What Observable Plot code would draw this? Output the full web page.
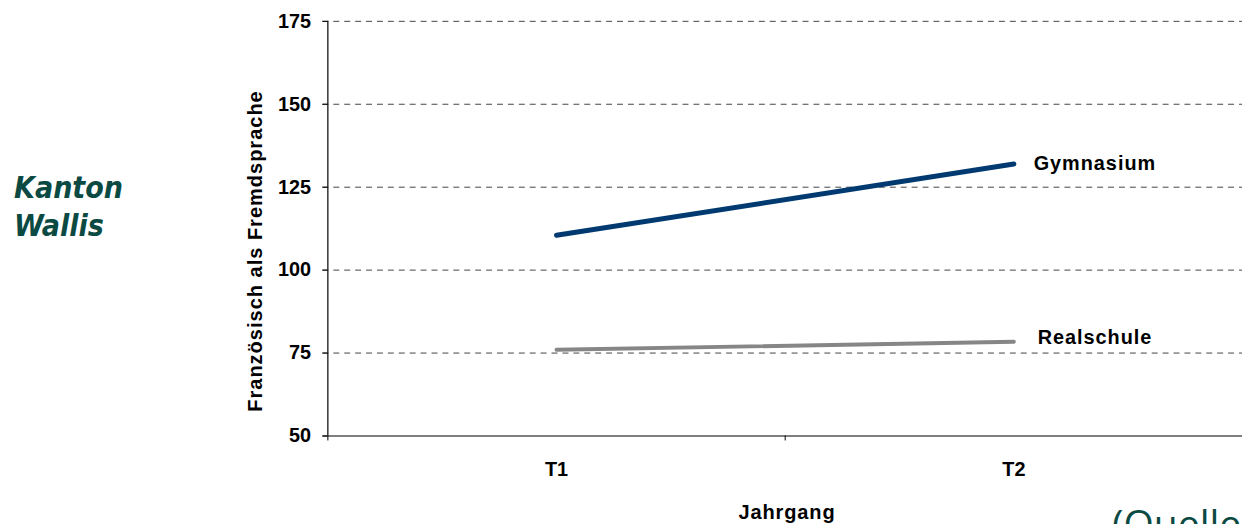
<!DOCTYPE html>
<html><head><meta charset="utf-8">
<script src="https://cdn.jsdelivr.net/npm/d3@7"></script>
<script src="https://cdn.jsdelivr.net/npm/@observablehq/plot@0.6"></script>
<style>
html,body{margin:0;padding:0;background:#fff;overflow:hidden;width:1242px;height:524px;}
#wrap{position:relative;width:1242px;height:524px;overflow:hidden;}
#chart{position:absolute;left:0;top:0;}
.note{position:absolute;color:#0b4a43;white-space:nowrap;}
.lbl{position:absolute;font-family:"Liberation Sans",Arial,sans-serif;font-weight:bold;font-size:20px;color:#000;white-space:nowrap;}
</style></head>
<body><div id="wrap"><div id="chart"></div>
<div class="note" style="left:14px;top:169px;font-family:'DejaVu Sans Condensed','DejaVu Sans',sans-serif;font-stretch:condensed;font-size:30px;font-style:italic;font-weight:bold;line-height:38px;">Kanton<br>Wallis</div>
<div class="lbl" style="left:787px;top:512px;transform:translate(-50%,-50%);letter-spacing:0.9px;">Jahrgang</div>
<div class="lbl" style="left:255px;top:251px;transform:translate(-50%,-50%) rotate(-90deg);letter-spacing:1px;">Französisch als Fremdsprache</div>
<div class="note" style="left:1112px;top:503px;font-size:39px;line-height:39px;font-weight:400;font-family:'Open Sans','DejaVu Sans',sans-serif;">(Quelle:</div>
</div>
<script>
const periods = ["T1", "T2"];
const seriesNames = ["Gymnasium", "Realschule"];
const gymnasium = [110.5, 132];
const realschule = [76, 78.4];
const yTicks = [50, 75, 100, 125, 150, 175];

const rows = [];
periods.forEach((p, i) => {
  rows.push({series: seriesNames[0], x: i + 1, y: gymnasium[i]});
  rows.push({series: seriesNames[1], x: i + 1, y: realschule[i]});
});
const last = periods.length;
const colors = {Gymnasium: "#003a70", Realschule: "#868686"};

const plot = Plot.plot({
  width: 1252, height: 524,
  marginLeft: 330, marginRight: 0, marginTop: 21, marginBottom: 85,
  x: {type: "linear", domain: [0.5, periods.length + 0.5]},
  y: {domain: [50, 175]},
  style: {fontFamily: "'Liberation Sans', Arial, sans-serif", fontSize: "20px", fontWeight: "bold", color: "#000", overflow: "visible"},
  marks: [
    Plot.ruleY(yTicks.filter(t => t > 50), {stroke: "#444", strokeDasharray: "6,5", strokeWidth: 1, insetLeft: -5}),
    Plot.ruleY([50], {stroke: "#555", strokeWidth: 1.5, insetLeft: -5}),
    Plot.ruleX([0.5], {y1: 50, y2: 175, stroke: "#000", strokeWidth: 1.2}),
    Plot.axisY({ticks: yTicks, tickSize: 5, tickPadding: 12, label: null}),
    Plot.axisX({ticks: [0.5, 1.5, 2.5], tickSize: 5, tickFormat: () => "", label: null}),
    Plot.axisX({ticks: periods.map((p, i) => i + 1), tickSize: 0, tickPadding: 26, tickFormat: d => periods[d - 1], label: null}),
    Plot.line(rows, {x: "x", y: "y", z: "series", stroke: d => colors[d.series], strokeWidth: d => d.series === "Gymnasium" ? 5 : 4, strokeLinecap: "round"}),
    Plot.text(rows.filter(d => d.x === last && d.series === "Gymnasium"), {x: "x", y: "y", text: "series", textAnchor: "start", dx: 20, dy: 0, fontSize: 20, fontWeight: "bold", fill: "#000"}),
    Plot.text(rows.filter(d => d.x === last && d.series === "Realschule"), {x: "x", y: "y", text: "series", textAnchor: "start", dx: 24, dy: -4, fontSize: 20, fontWeight: "bold", fill: "#000"})
  ]
});
plot.querySelectorAll("g[aria-label='text'] text").forEach(t => t.setAttribute("letter-spacing", "1px"));
document.getElementById("chart").appendChild(plot);
</script></body></html>
